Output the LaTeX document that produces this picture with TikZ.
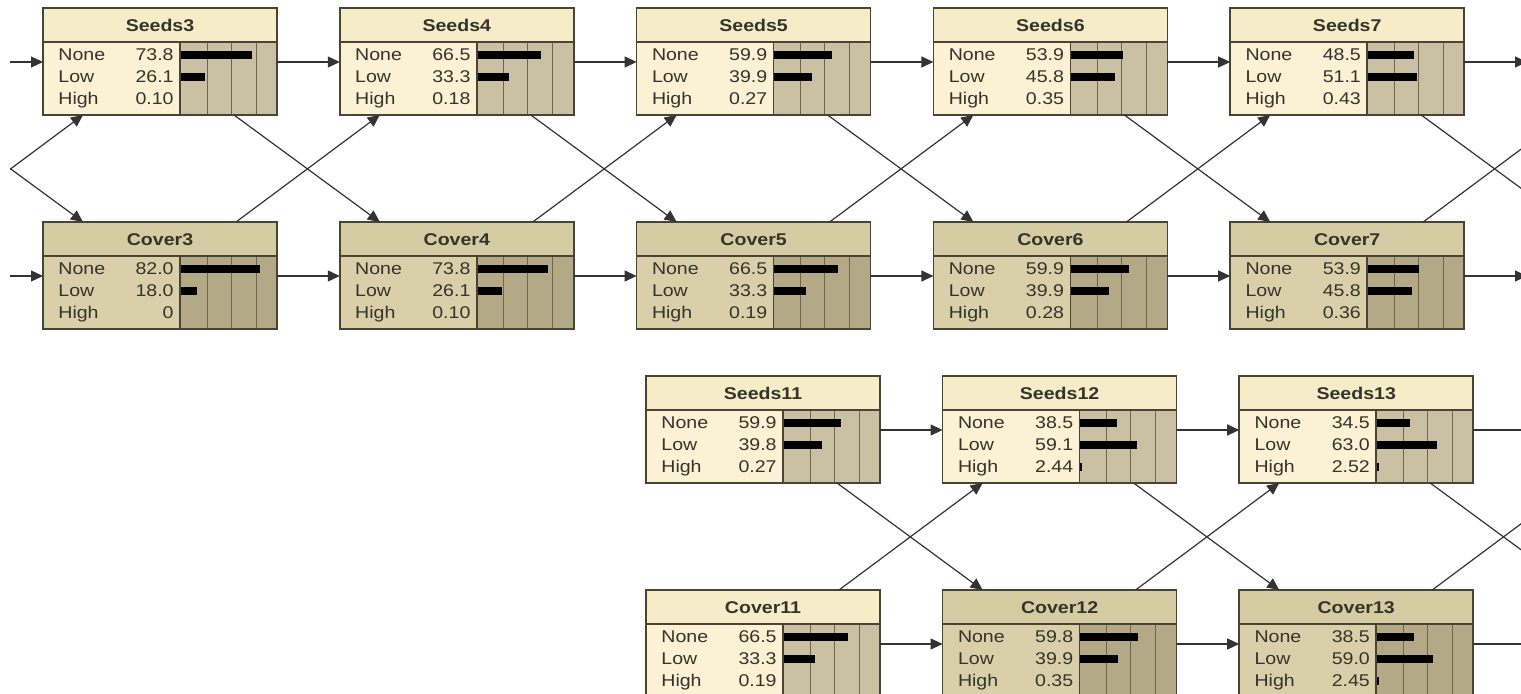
\documentclass[tikz,border=0pt]{standalone}
\usepackage{fontspec}
\setmainfont[FakeStretch=1.15]{Liberation Sans}
\usetikzlibrary{arrows.meta}

\definecolor{nodeline}{HTML}{4A4436}
\definecolor{labeltext}{HTML}{35332A}
\definecolor{gridline}{HTML}{6E6652}
\definecolor{titleL}{HTML}{F6ECC8}
\definecolor{bodyL}{HTML}{FBF2D5}
\definecolor{barL}{HTML}{CAC1A4}
\definecolor{titleD}{HTML}{D6CCA3}
\definecolor{bodyD}{HTML}{D9CFA9}
\definecolor{barD}{HTML}{B3A987}

% ports of a belief box at (x,y): name, x, y
\newcommand{\ports}[3]{%
  \coordinate (#1-in)   at (#2,#3+54);
  \coordinate (#1-out)  at (#2+234,#3+54);
  \coordinate (#1-tin)  at (#2+40,#3);
  \coordinate (#1-tout) at (#2+193,#3);
  \coordinate (#1-bin)  at (#2+40,#3+107);
  \coordinate (#1-bout) at (#2+191,#3+107);}

% one belief bar: top y, percentage (bars under 1% are not shown)
\newcommand{\beliefbar}[2]{%
  \ifdim#2pt<1pt\else\fill[belbar] (137,#1) rectangle ++(0.97*#2,8);\fi}

% belief box: name, x, y, shade (L/D), title, None, Low, High
\newcommand{\belief}[8]{%
  \begin{scope}[shift={(#2,#3)}]
    \fill[title#4] (0,0) rectangle (234,34);
    \fill[body#4] (0,34) rectangle (137,107);
    \fill[bar#4] (137,34) rectangle (234,107);
    \foreach \g in {164,188,213} \draw[gridline,line width=0.5pt] (\g,34) -- (\g,107);
    \beliefbar{43}{#6}
    \beliefbar{65}{#7}
    \beliefbar{87}{#8}
    \draw[nodeline,line width=0.8pt] (0,34) -- (234,34) (137,34) -- (137,107);
    \node[boxframe] (#1) at (117,53.5) {};
    \node[titletext] (#1-name) at (117,24) {#5};
    \node[statetext] (#1-a) at (15,53) {None};
    \node[statetext] (#1-b) at (15,75) {Low};
    \node[statetext] (#1-c) at (15,97) {High};
    \node[valtext] (#1-va) at (131,53) {#6};
    \node[valtext] (#1-vb) at (131,75) {#7};
    \node[valtext] (#1-vc) at (131,97) {#8};
  \end{scope}
  \ports{#1}{#2}{#3}}

\begin{document}
\begin{tikzpicture}[x=0.5pt,y=-0.5pt,
  font=\fontsize{8.5}{10}\selectfont,
  boxframe/.style={draw=nodeline,line width=0.8pt,minimum width=117pt,minimum height=53.5pt,inner sep=0pt},
  titletext/.style={anchor=base,inner sep=0pt,text=labeltext,font=\fontsize{8.5}{10}\selectfont\bfseries},
  statetext/.style={anchor=base west,inner sep=0pt,text=labeltext},
  valtext/.style={anchor=base east,inner sep=0pt,text=labeltext},
  belbar/.style={fill=black},
  arc/.style={draw=black!80,line width=0.6pt,-{Triangle[length=6pt,width=5.5pt]}}]
\useasboundingbox[fill=white] (0,0) rectangle (1521,694);
\clip (10,0) rectangle (1521,694);

% upper chain
\belief{s3}{43}{8}{L}{Seeds3}{73.8}{26.1}{0.10}
\belief{s4}{339.8}{8}{L}{Seeds4}{66.5}{33.3}{0.18}
\belief{s5}{636.6}{8}{L}{Seeds5}{59.9}{39.9}{0.27}
\belief{s6}{933.4}{8}{L}{Seeds6}{53.9}{45.8}{0.35}
\belief{s7}{1230.2}{8}{L}{Seeds7}{48.5}{51.1}{0.43}
\belief{c3}{43}{222}{D}{Cover3}{82.0}{18.0}{0}
\belief{c4}{339.8}{222}{D}{Cover4}{73.8}{26.1}{0.10}
\belief{c5}{636.6}{222}{D}{Cover5}{66.5}{33.3}{0.19}
\belief{c6}{933.4}{222}{D}{Cover6}{59.9}{39.9}{0.28}
\belief{c7}{1230.2}{222}{D}{Cover7}{53.9}{45.8}{0.36}
\ports{s2}{-253.8}{8}
\ports{c2}{-253.8}{222}
\ports{s8}{1527}{8}
\ports{c8}{1527}{222}

% lower chain
\belief{s11}{646}{376}{L}{Seeds11}{59.9}{39.8}{0.27}
\belief{s12}{942.6}{376}{L}{Seeds12}{38.5}{59.1}{2.44}
\belief{s13}{1239.2}{376}{L}{Seeds13}{34.5}{63.0}{2.52}
\belief{c11}{646}{590}{L}{Cover11}{66.5}{33.3}{0.19}
\belief{c12}{942.6}{590}{D}{Cover12}{59.8}{39.9}{0.35}
\belief{c13}{1239.2}{590}{D}{Cover13}{38.5}{59.0}{2.45}
\ports{s14}{1535.8}{376}
\ports{c14}{1535.8}{590}

% links between time slices
\foreach \i [evaluate=\i as \j using int(\i+1)] in {2,...,7,11,12,13} {
  \draw[arc] (s\i-out) -- (s\j-in);
  \draw[arc] (c\i-out) -- (c\j-in);
  \draw[arc] (s\i-bout) -- (c\j-tin);
  \draw[arc] (c\i-tout) -- (s\j-bin);
}
\end{tikzpicture}
\end{document}
